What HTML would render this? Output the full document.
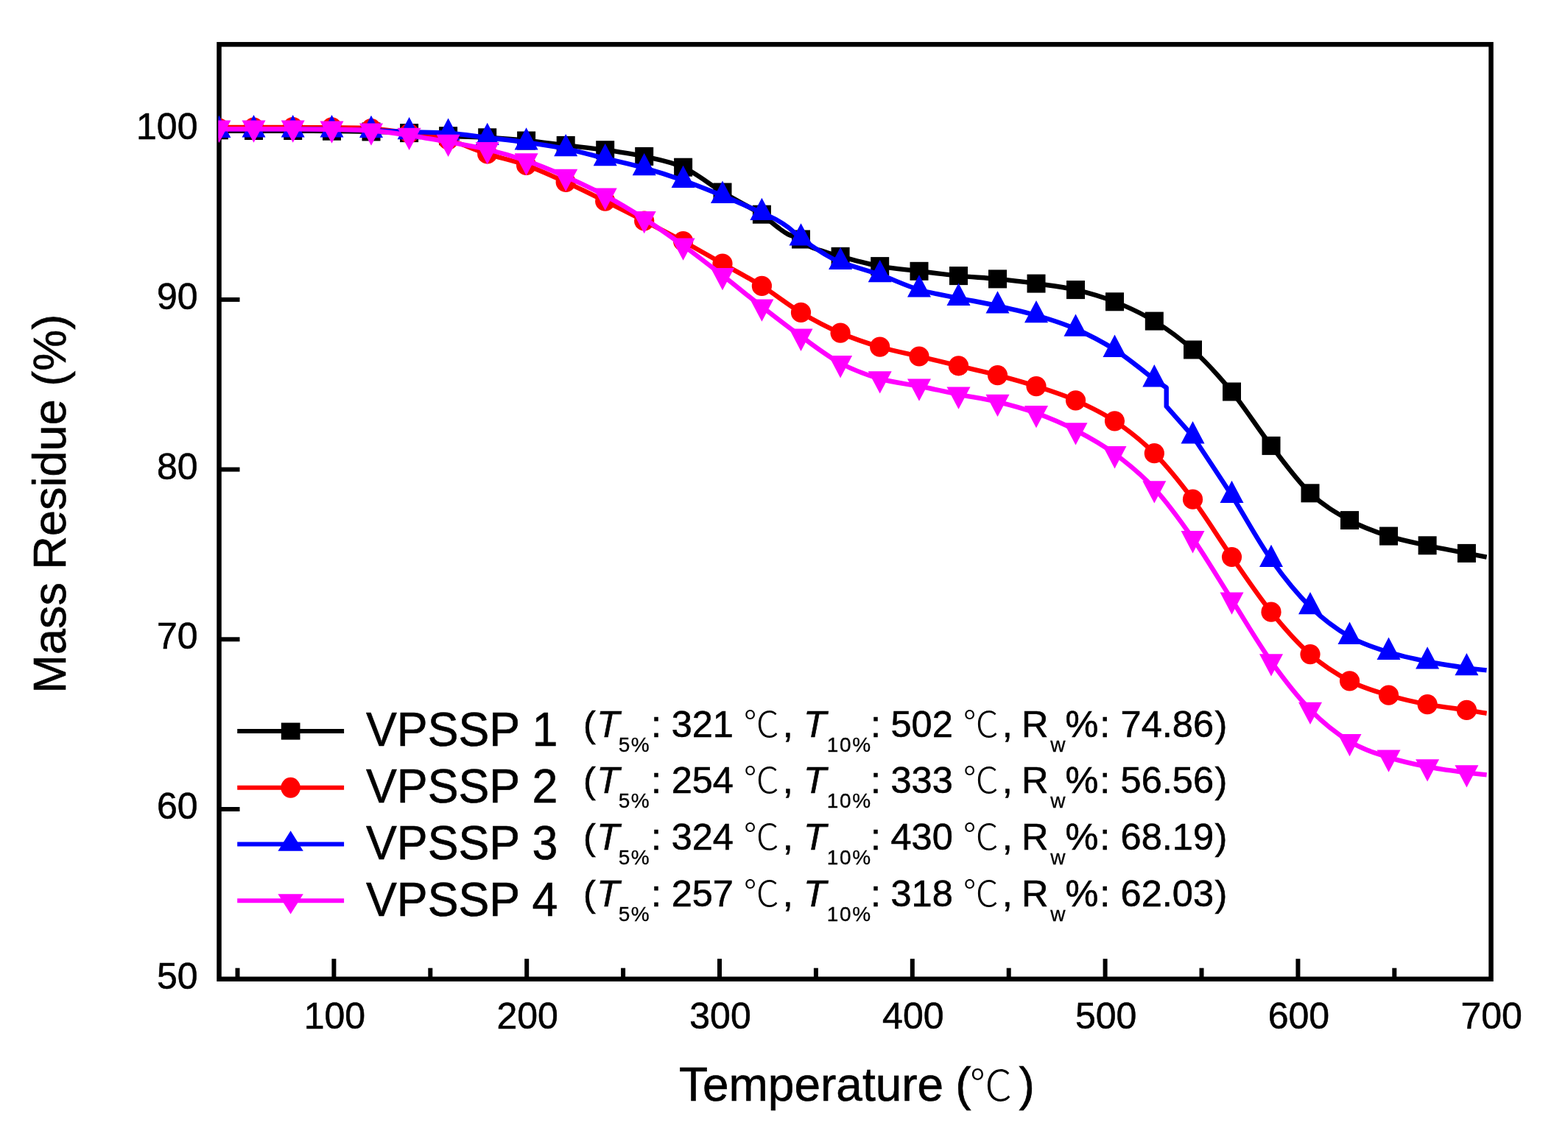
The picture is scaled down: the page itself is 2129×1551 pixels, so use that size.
<!DOCTYPE html>
<html><head><meta charset="utf-8"><title>TGA curves</title>
<style>
html,body{margin:0;padding:0;background:#fff;}
svg{display:block;}
text{font-family:"Liberation Sans",sans-serif;fill:#000;stroke:#000;stroke-width:0.6px;}
.tk{font-size:50px;}
.lg{font-size:64px;}
.ld{font-size:50.5px;}
.it{font-style:italic;}
.sub{font-size:28px;letter-spacing:1.6px;stroke-width:0.3px;}
.subw{font-size:28px;stroke-width:0.3px;}
.cj{font-family:"Liberation Sans","Noto Sans CJK SC",sans-serif;font-weight:300;font-size:48.5px;stroke-width:0;}
.cjt{font-family:"Liberation Sans","Noto Sans CJK SC",sans-serif;font-weight:300;font-size:58px;stroke-width:0;}
.ttl{font-size:64px;}
.ttly{font-size:63px;}
</style></head>
<body>
<svg width="2129" height="1551" viewBox="0 0 2129 1551">
<rect width="2129" height="1551" fill="#fff"/>
<defs><clipPath id="pc"><rect x="296.4" y="0" width="1740" height="1551"/></clipPath></defs>
<g stroke="#000" stroke-width="6">
<line x1="453.4" y1="1329.7" x2="453.4" y2="1302.2"/>
<line x1="715.2" y1="1329.7" x2="715.2" y2="1302.2"/>
<line x1="977.0" y1="1329.7" x2="977.0" y2="1302.2"/>
<line x1="1238.8" y1="1329.7" x2="1238.8" y2="1302.2"/>
<line x1="1500.6" y1="1329.7" x2="1500.6" y2="1302.2"/>
<line x1="1762.4" y1="1329.7" x2="1762.4" y2="1302.2"/>
<line x1="322.5" y1="1329.7" x2="322.5" y2="1314.7"/>
<line x1="584.3" y1="1329.7" x2="584.3" y2="1314.7"/>
<line x1="846.1" y1="1329.7" x2="846.1" y2="1314.7"/>
<line x1="1107.9" y1="1329.7" x2="1107.9" y2="1314.7"/>
<line x1="1369.7" y1="1329.7" x2="1369.7" y2="1314.7"/>
<line x1="1631.5" y1="1329.7" x2="1631.5" y2="1314.7"/>
<line x1="1893.3" y1="1329.7" x2="1893.3" y2="1314.7"/>
<line x1="297.5" y1="1099.0" x2="325.5" y2="1099.0"/>
<line x1="297.5" y1="868.3" x2="325.5" y2="868.3"/>
<line x1="297.5" y1="637.6" x2="325.5" y2="637.6"/>
<line x1="297.5" y1="406.9" x2="325.5" y2="406.9"/>
<line x1="297.5" y1="176.2" x2="325.5" y2="176.2"/>
</g>
<rect x="297.5" y="60.3" width="1727.0" height="1269.4" fill="none" stroke="#000" stroke-width="6.5"/>
<g clip-path="url(#pc)">
<path d="M297.4,177.8 C305.2,177.8 327.8,177.8 344.5,177.8 C361.2,177.8 380.0,177.8 397.7,177.8 C415.4,177.8 432.8,177.8 450.5,178.0 C468.2,178.2 486.5,178.5 504.0,178.9 C521.5,179.3 538.2,179.6 555.6,180.6 C573.0,181.6 590.9,183.7 608.6,184.7 C626.3,185.7 644.0,185.8 661.7,186.8 C679.4,187.9 696.9,189.2 714.6,191.0 C732.4,192.8 750.4,195.3 768.2,197.4 C786.1,199.5 804.0,201.2 821.7,203.7 C839.5,206.2 857.1,208.5 874.7,212.4 C892.4,216.3 909.9,219.1 927.6,227.2 C945.3,235.3 963.2,250.3 981.0,261.0 C998.8,271.7 1023.4,284.4 1034.4,291.2 C1045.4,297.9 1042.9,298.2 1047.0,301.5 C1051.1,304.8 1055.1,308.2 1059.0,311.0 C1062.9,313.8 1065.8,316.2 1070.6,318.5 C1075.3,320.8 1082.6,322.2 1087.5,325.0 C1092.4,327.8 1094.6,332.2 1100.0,335.0 C1105.4,337.8 1113.2,339.8 1120.0,342.0 C1126.8,344.2 1128.6,345.0 1141.1,348.3 C1153.5,351.6 1176.9,358.3 1194.7,361.6 C1212.5,364.9 1230.2,366.1 1248.0,368.3 C1265.8,370.5 1283.8,372.8 1301.5,374.6 C1319.2,376.4 1336.9,377.1 1354.5,378.9 C1372.1,380.6 1389.3,382.7 1407.0,385.1 C1424.7,387.6 1442.8,389.5 1460.5,393.6 C1478.2,397.7 1495.7,402.7 1513.5,409.8 C1531.3,416.9 1549.6,425.2 1567.3,436.1 C1585.0,447.0 1602.0,459.0 1619.5,475.0 C1637.0,491.0 1654.8,510.3 1672.5,532.0 C1690.2,553.7 1708.2,582.4 1726.0,605.4 C1743.8,628.4 1761.2,652.9 1779.0,669.8 C1796.8,686.7 1814.8,696.9 1832.5,706.6 C1850.2,716.3 1867.9,722.4 1885.5,728.1 C1903.1,733.8 1920.4,736.9 1938.1,740.8 C1955.8,744.7 1978.0,748.8 1991.4,751.4 C2004.8,754.0 2014.1,755.8 2018.6,756.7" fill="none" stroke="#000000" stroke-width="6.4" stroke-linejoin="round"/>
<rect x="284.9" y="164.3" width="25.0" height="25.0" fill="#000000"/>
<rect x="332.0" y="165.0" width="25.0" height="25.0" fill="#000000"/>
<rect x="385.2" y="165.0" width="25.0" height="25.0" fill="#000000"/>
<rect x="438.0" y="165.7" width="25.0" height="25.0" fill="#000000"/>
<rect x="491.5" y="166.4" width="25.0" height="25.0" fill="#000000"/>
<rect x="543.1" y="168.1" width="25.0" height="25.0" fill="#000000"/>
<rect x="596.1" y="172.2" width="25.0" height="25.0" fill="#000000"/>
<rect x="649.2" y="174.3" width="25.0" height="25.0" fill="#000000"/>
<rect x="702.1" y="178.5" width="25.0" height="25.0" fill="#000000"/>
<rect x="755.7" y="184.9" width="25.0" height="25.0" fill="#000000"/>
<rect x="809.2" y="191.2" width="25.0" height="25.0" fill="#000000"/>
<rect x="862.2" y="199.9" width="25.0" height="25.0" fill="#000000"/>
<rect x="915.1" y="214.7" width="25.0" height="25.0" fill="#000000"/>
<rect x="968.5" y="248.5" width="25.0" height="25.0" fill="#000000"/>
<rect x="1021.9" y="278.7" width="25.0" height="25.0" fill="#000000"/>
<rect x="1075.0" y="312.5" width="25.0" height="25.0" fill="#000000"/>
<rect x="1128.6" y="335.8" width="25.0" height="25.0" fill="#000000"/>
<rect x="1182.2" y="349.1" width="25.0" height="25.0" fill="#000000"/>
<rect x="1235.5" y="355.8" width="25.0" height="25.0" fill="#000000"/>
<rect x="1289.0" y="362.1" width="25.0" height="25.0" fill="#000000"/>
<rect x="1342.0" y="366.4" width="25.0" height="25.0" fill="#000000"/>
<rect x="1394.5" y="372.6" width="25.0" height="25.0" fill="#000000"/>
<rect x="1448.0" y="381.1" width="25.0" height="25.0" fill="#000000"/>
<rect x="1501.0" y="397.3" width="25.0" height="25.0" fill="#000000"/>
<rect x="1554.8" y="423.6" width="25.0" height="25.0" fill="#000000"/>
<rect x="1607.0" y="462.5" width="25.0" height="25.0" fill="#000000"/>
<rect x="1660.0" y="519.5" width="25.0" height="25.0" fill="#000000"/>
<rect x="1713.5" y="592.9" width="25.0" height="25.0" fill="#000000"/>
<rect x="1766.5" y="657.3" width="25.0" height="25.0" fill="#000000"/>
<rect x="1820.0" y="694.1" width="25.0" height="25.0" fill="#000000"/>
<rect x="1873.0" y="715.6" width="25.0" height="25.0" fill="#000000"/>
<rect x="1925.6" y="728.3" width="25.0" height="25.0" fill="#000000"/>
<rect x="1978.9" y="738.9" width="25.0" height="25.0" fill="#000000"/>
<path d="M297.4,173.0 C305.2,173.0 327.8,173.0 344.5,173.0 C361.2,173.0 380.0,172.9 397.7,173.0 C415.4,173.1 432.8,173.1 450.5,173.3 C468.2,173.6 486.5,173.2 504.0,174.5 C521.5,175.8 538.2,178.4 555.6,181.0 C573.0,183.6 590.9,185.3 608.6,190.0 C626.3,194.7 644.0,203.3 661.7,209.0 C679.4,214.7 696.9,218.0 714.6,224.4 C732.4,230.8 750.4,239.2 768.2,247.3 C786.1,255.4 804.0,264.4 821.7,273.2 C839.5,282.0 857.1,290.9 874.7,300.0 C892.4,309.1 909.9,318.0 927.6,327.7 C945.3,337.4 963.2,347.9 981.0,358.0 C998.8,368.1 1016.7,377.3 1034.4,388.4 C1052.2,399.5 1069.7,413.8 1087.5,424.4 C1105.3,435.0 1123.2,444.4 1141.1,452.2 C1159.0,460.0 1176.9,465.9 1194.7,471.2 C1212.5,476.5 1230.2,479.7 1248.0,484.0 C1265.8,488.3 1283.8,492.6 1301.5,496.9 C1319.2,501.2 1336.9,505.0 1354.5,509.6 C1372.1,514.2 1389.3,518.9 1407.0,524.6 C1424.7,530.3 1442.8,535.9 1460.5,543.8 C1478.2,551.7 1495.7,559.8 1513.5,571.8 C1531.3,583.8 1549.6,598.0 1567.3,615.7 C1585.0,633.4 1602.0,654.7 1619.5,678.2 C1637.0,701.7 1654.8,731.0 1672.5,756.5 C1690.2,782.0 1708.2,809.2 1726.0,831.2 C1743.8,853.2 1761.2,873.0 1779.0,888.6 C1796.8,904.2 1814.8,915.5 1832.5,924.8 C1850.2,934.1 1867.9,938.9 1885.5,944.2 C1903.1,949.5 1920.4,953.3 1938.1,956.7 C1955.8,960.1 1978.0,962.4 1991.4,964.4 C2004.8,966.4 2014.1,968.1 2018.6,968.8" fill="none" stroke="#ff0000" stroke-width="6.4" stroke-linejoin="round"/>
<circle cx="297.4" cy="174.0" r="13.6" fill="#ff0000"/>
<circle cx="344.5" cy="173.0" r="13.6" fill="#ff0000"/>
<circle cx="397.7" cy="172.5" r="13.6" fill="#ff0000"/>
<circle cx="450.5" cy="172.8" r="13.6" fill="#ff0000"/>
<circle cx="504.0" cy="174.5" r="13.6" fill="#ff0000"/>
<circle cx="555.6" cy="181.0" r="13.6" fill="#ff0000"/>
<circle cx="608.6" cy="190.0" r="13.6" fill="#ff0000"/>
<circle cx="661.7" cy="209.0" r="13.6" fill="#ff0000"/>
<circle cx="714.6" cy="224.4" r="13.6" fill="#ff0000"/>
<circle cx="768.2" cy="247.3" r="13.6" fill="#ff0000"/>
<circle cx="821.7" cy="273.2" r="13.6" fill="#ff0000"/>
<circle cx="874.7" cy="300.0" r="13.6" fill="#ff0000"/>
<circle cx="927.6" cy="327.7" r="13.6" fill="#ff0000"/>
<circle cx="981.0" cy="358.0" r="13.6" fill="#ff0000"/>
<circle cx="1034.4" cy="388.4" r="13.6" fill="#ff0000"/>
<circle cx="1087.5" cy="424.4" r="13.6" fill="#ff0000"/>
<circle cx="1141.1" cy="452.2" r="13.6" fill="#ff0000"/>
<circle cx="1194.7" cy="471.2" r="13.6" fill="#ff0000"/>
<circle cx="1248.0" cy="484.0" r="13.6" fill="#ff0000"/>
<circle cx="1301.5" cy="496.9" r="13.6" fill="#ff0000"/>
<circle cx="1354.5" cy="509.6" r="13.6" fill="#ff0000"/>
<circle cx="1407.0" cy="524.6" r="13.6" fill="#ff0000"/>
<circle cx="1460.5" cy="543.8" r="13.6" fill="#ff0000"/>
<circle cx="1513.5" cy="571.8" r="13.6" fill="#ff0000"/>
<circle cx="1567.3" cy="615.7" r="13.6" fill="#ff0000"/>
<circle cx="1619.5" cy="678.2" r="13.6" fill="#ff0000"/>
<circle cx="1672.5" cy="756.5" r="13.6" fill="#ff0000"/>
<circle cx="1726.0" cy="831.2" r="13.6" fill="#ff0000"/>
<circle cx="1779.0" cy="888.6" r="13.6" fill="#ff0000"/>
<circle cx="1832.5" cy="924.8" r="13.6" fill="#ff0000"/>
<circle cx="1885.5" cy="944.2" r="13.6" fill="#ff0000"/>
<circle cx="1938.1" cy="956.7" r="13.6" fill="#ff0000"/>
<circle cx="1991.4" cy="964.4" r="13.6" fill="#ff0000"/>
<path d="M297.4,175.3 C305.2,175.3 327.8,175.3 344.5,175.3 C361.2,175.3 380.0,175.2 397.7,175.3 C415.4,175.4 432.8,175.3 450.5,175.6 C468.2,175.9 486.5,176.4 504.0,177.0 C521.5,177.6 538.2,178.6 555.6,179.2 C573.0,179.8 590.9,179.4 608.6,180.7 C626.3,182.0 644.0,184.9 661.7,187.0 C679.4,189.1 696.9,190.9 714.6,193.4 C732.4,195.9 750.4,198.6 768.2,202.2 C786.1,205.8 804.0,210.9 821.7,215.2 C839.5,219.5 857.1,223.1 874.7,228.1 C892.4,233.1 909.9,238.7 927.6,245.0 C945.3,251.3 963.2,258.5 981.0,265.8 C998.8,273.1 1022.4,283.7 1034.4,289.0 C1046.4,294.3 1047.0,294.5 1053.0,297.8 C1059.0,301.1 1064.8,304.7 1070.6,309.0 C1076.3,313.3 1079.8,317.8 1087.5,323.5 C1095.2,329.2 1108.1,338.1 1117.0,343.5 C1125.9,348.9 1128.1,351.1 1141.1,356.0 C1154.0,360.9 1176.9,366.9 1194.7,373.1 C1212.5,379.4 1230.2,388.2 1248.0,393.5 C1265.8,398.8 1283.8,401.2 1301.5,404.8 C1319.2,408.4 1336.9,411.5 1354.5,415.4 C1372.1,419.3 1389.3,423.0 1407.0,428.2 C1424.7,433.4 1442.8,438.9 1460.5,446.7 C1478.2,454.5 1495.7,463.4 1513.5,474.8 C1531.3,486.2 1558.3,508.5 1567.3,515.3 L1583.7,526.5 L1583.7,551.9 L1619.5,592.3 C1628.3,605.8 1654.8,645.0 1672.5,673.0 C1690.2,701.0 1708.2,734.8 1726.0,760.0 C1743.8,785.2 1761.2,806.6 1779.0,824.1 C1796.8,841.6 1814.8,854.5 1832.5,864.8 C1850.2,875.1 1867.9,880.2 1885.5,885.8 C1903.1,891.4 1920.4,894.9 1938.1,898.5 C1955.8,902.1 1978.0,905.2 1991.4,907.2 C2004.8,909.2 2014.0,909.8 2018.5,910.3" fill="none" stroke="#0000ff" stroke-width="6.4" stroke-linejoin="round"/>
<path d="M297.4,156.7L313.4,187.0L281.4,187.0Z" fill="#0000ff"/>
<path d="M344.5,156.1L360.5,186.4L328.5,186.4Z" fill="#0000ff"/>
<path d="M397.7,156.1L413.7,186.4L381.7,186.4Z" fill="#0000ff"/>
<path d="M450.5,156.1L466.5,186.4L434.5,186.4Z" fill="#0000ff"/>
<path d="M504.0,156.8L520.0,187.1L488.0,187.1Z" fill="#0000ff"/>
<path d="M555.6,159.0L571.6,189.3L539.6,189.3Z" fill="#0000ff"/>
<path d="M608.6,160.5L624.6,190.8L592.6,190.8Z" fill="#0000ff"/>
<path d="M661.7,166.8L677.7,197.1L645.7,197.1Z" fill="#0000ff"/>
<path d="M714.6,173.2L730.6,203.5L698.6,203.5Z" fill="#0000ff"/>
<path d="M768.2,182.0L784.2,212.3L752.2,212.3Z" fill="#0000ff"/>
<path d="M821.7,195.0L837.7,225.3L805.7,225.3Z" fill="#0000ff"/>
<path d="M874.7,207.9L890.7,238.2L858.7,238.2Z" fill="#0000ff"/>
<path d="M927.6,224.8L943.6,255.1L911.6,255.1Z" fill="#0000ff"/>
<path d="M981.0,245.6L997.0,275.9L965.0,275.9Z" fill="#0000ff"/>
<path d="M1034.4,268.8L1050.4,299.1L1018.4,299.1Z" fill="#0000ff"/>
<path d="M1087.5,303.3L1103.5,333.6L1071.5,333.6Z" fill="#0000ff"/>
<path d="M1141.1,335.8L1157.1,366.1L1125.1,366.1Z" fill="#0000ff"/>
<path d="M1194.7,352.9L1210.7,383.2L1178.7,383.2Z" fill="#0000ff"/>
<path d="M1248.0,373.3L1264.0,403.6L1232.0,403.6Z" fill="#0000ff"/>
<path d="M1301.5,384.6L1317.5,414.9L1285.5,414.9Z" fill="#0000ff"/>
<path d="M1354.5,395.2L1370.5,425.5L1338.5,425.5Z" fill="#0000ff"/>
<path d="M1407.0,408.0L1423.0,438.3L1391.0,438.3Z" fill="#0000ff"/>
<path d="M1460.5,426.5L1476.5,456.8L1444.5,456.8Z" fill="#0000ff"/>
<path d="M1513.5,454.6L1529.5,484.9L1497.5,484.9Z" fill="#0000ff"/>
<path d="M1567.3,495.1L1583.3,525.4L1551.3,525.4Z" fill="#0000ff"/>
<path d="M1619.5,572.1L1635.5,602.4L1603.5,602.4Z" fill="#0000ff"/>
<path d="M1672.5,652.8L1688.5,683.1L1656.5,683.1Z" fill="#0000ff"/>
<path d="M1726.0,739.8L1742.0,770.1L1710.0,770.1Z" fill="#0000ff"/>
<path d="M1779.0,803.9L1795.0,834.2L1763.0,834.2Z" fill="#0000ff"/>
<path d="M1832.5,844.6L1848.5,874.9L1816.5,874.9Z" fill="#0000ff"/>
<path d="M1885.5,865.6L1901.5,895.9L1869.5,895.9Z" fill="#0000ff"/>
<path d="M1938.1,878.3L1954.1,908.6L1922.1,908.6Z" fill="#0000ff"/>
<path d="M1991.4,887.0L2007.4,917.3L1975.4,917.3Z" fill="#0000ff"/>
<path d="M297.4,175.3 C305.2,175.3 327.8,175.3 344.5,175.3 C361.2,175.3 380.0,175.2 397.7,175.3 C415.4,175.4 432.8,175.4 450.5,175.8 C468.2,176.2 486.5,176.2 504.0,177.5 C521.5,178.8 538.2,181.2 555.6,183.8 C573.0,186.4 590.9,189.6 608.6,192.8 C626.3,196.0 644.0,198.8 661.7,203.0 C679.4,207.2 696.9,212.2 714.6,218.3 C732.4,224.4 750.4,231.9 768.2,239.8 C786.1,247.7 804.0,256.1 821.7,265.6 C839.5,275.1 857.1,285.7 874.7,297.0 C892.4,308.3 909.9,320.7 927.6,333.5 C945.3,346.3 963.2,360.2 981.0,374.0 C998.8,387.8 1016.7,402.7 1034.4,416.5 C1052.2,430.3 1069.7,443.9 1087.5,456.7 C1105.3,469.5 1123.2,483.6 1141.1,493.2 C1159.0,502.8 1176.9,509.2 1194.7,514.4 C1212.5,519.6 1230.2,521.0 1248.0,524.5 C1265.8,528.0 1283.8,532.0 1301.5,535.6 C1319.2,539.2 1336.9,541.6 1354.5,545.9 C1372.1,550.1 1389.3,554.7 1407.0,561.1 C1424.7,567.5 1442.8,575.1 1460.5,584.3 C1478.2,593.5 1495.7,603.0 1513.5,616.2 C1531.3,629.4 1549.6,644.1 1567.3,663.3 C1585.0,682.5 1602.0,706.0 1619.5,731.2 C1637.0,756.4 1654.8,786.6 1672.5,814.5 C1690.2,842.4 1708.2,873.5 1726.0,898.4 C1743.8,923.3 1761.2,945.8 1779.0,963.9 C1796.8,982.0 1814.8,996.2 1832.5,1007.0 C1850.2,1017.8 1867.9,1022.9 1885.5,1028.6 C1903.1,1034.3 1920.4,1037.9 1938.1,1041.4 C1955.8,1044.9 1978.0,1047.6 1991.4,1049.4 C2004.8,1051.2 2014.1,1051.9 2018.6,1052.4" fill="none" stroke="#ff00ff" stroke-width="6.4" stroke-linejoin="round"/>
<path d="M297.4,193.9L313.4,163.6L281.4,163.6Z" fill="#ff00ff"/>
<path d="M344.5,193.7L360.5,163.4L328.5,163.4Z" fill="#ff00ff"/>
<path d="M397.7,193.7L413.7,163.4L381.7,163.4Z" fill="#ff00ff"/>
<path d="M450.5,194.7L466.5,164.4L434.5,164.4Z" fill="#ff00ff"/>
<path d="M504.0,197.7L520.0,167.4L488.0,167.4Z" fill="#ff00ff"/>
<path d="M555.6,204.0L571.6,173.7L539.6,173.7Z" fill="#ff00ff"/>
<path d="M608.6,213.0L624.6,182.7L592.6,182.7Z" fill="#ff00ff"/>
<path d="M661.7,223.2L677.7,192.9L645.7,192.9Z" fill="#ff00ff"/>
<path d="M714.6,238.5L730.6,208.2L698.6,208.2Z" fill="#ff00ff"/>
<path d="M768.2,260.0L784.2,229.7L752.2,229.7Z" fill="#ff00ff"/>
<path d="M821.7,285.8L837.7,255.5L805.7,255.5Z" fill="#ff00ff"/>
<path d="M874.7,317.2L890.7,286.9L858.7,286.9Z" fill="#ff00ff"/>
<path d="M927.6,353.7L943.6,323.4L911.6,323.4Z" fill="#ff00ff"/>
<path d="M981.0,394.2L997.0,363.9L965.0,363.9Z" fill="#ff00ff"/>
<path d="M1034.4,436.7L1050.4,406.4L1018.4,406.4Z" fill="#ff00ff"/>
<path d="M1087.5,476.9L1103.5,446.6L1071.5,446.6Z" fill="#ff00ff"/>
<path d="M1141.1,513.4L1157.1,483.1L1125.1,483.1Z" fill="#ff00ff"/>
<path d="M1194.7,534.6L1210.7,504.3L1178.7,504.3Z" fill="#ff00ff"/>
<path d="M1248.0,544.7L1264.0,514.4L1232.0,514.4Z" fill="#ff00ff"/>
<path d="M1301.5,555.8L1317.5,525.5L1285.5,525.5Z" fill="#ff00ff"/>
<path d="M1354.5,566.1L1370.5,535.8L1338.5,535.8Z" fill="#ff00ff"/>
<path d="M1407.0,581.3L1423.0,551.0L1391.0,551.0Z" fill="#ff00ff"/>
<path d="M1460.5,604.5L1476.5,574.2L1444.5,574.2Z" fill="#ff00ff"/>
<path d="M1513.5,636.4L1529.5,606.1L1497.5,606.1Z" fill="#ff00ff"/>
<path d="M1567.3,683.5L1583.3,653.2L1551.3,653.2Z" fill="#ff00ff"/>
<path d="M1619.5,751.4L1635.5,721.1L1603.5,721.1Z" fill="#ff00ff"/>
<path d="M1672.5,834.7L1688.5,804.4L1656.5,804.4Z" fill="#ff00ff"/>
<path d="M1726.0,918.6L1742.0,888.3L1710.0,888.3Z" fill="#ff00ff"/>
<path d="M1779.0,984.1L1795.0,953.8L1763.0,953.8Z" fill="#ff00ff"/>
<path d="M1832.5,1027.2L1848.5,996.9L1816.5,996.9Z" fill="#ff00ff"/>
<path d="M1885.5,1048.8L1901.5,1018.5L1869.5,1018.5Z" fill="#ff00ff"/>
<path d="M1938.1,1061.6L1954.1,1031.3L1922.1,1031.3Z" fill="#ff00ff"/>
<path d="M1991.4,1069.6L2007.4,1039.3L1975.4,1039.3Z" fill="#ff00ff"/>
</g>
<g class="tk">
<text x="454.4" y="1396.5" text-anchor="middle">100</text>
<text x="716.2" y="1396.5" text-anchor="middle">200</text>
<text x="978.0" y="1396.5" text-anchor="middle">300</text>
<text x="1239.8" y="1396.5" text-anchor="middle">400</text>
<text x="1501.6" y="1396.5" text-anchor="middle">500</text>
<text x="1763.4" y="1396.5" text-anchor="middle">600</text>
<text x="2025.2" y="1396.5" text-anchor="middle">700</text>
<text x="268.5" y="1342.7" text-anchor="end">50</text>
<text x="268.5" y="1112.0" text-anchor="end">60</text>
<text x="268.5" y="881.3" text-anchor="end">70</text>
<text x="268.5" y="650.6" text-anchor="end">80</text>
<text x="268.5" y="419.9" text-anchor="end">90</text>
<text x="268.5" y="189.2" text-anchor="end">100</text>
</g>
<text class="ttl" y="1494.7"><tspan x="921.9">Temperature</tspan><tspan x="1297.2">(</tspan><tspan x="1316.6" class="cjt">℃</tspan><tspan x="1383.6">)</tspan></text>
<text class="ttly" transform="translate(88.5,941.5) rotate(-90)" x="0" y="0">Mass Residue (%)</text>
<line x1="322.2" y1="993.1" x2="467.1" y2="993.1" stroke="#000000" stroke-width="6"/>
<rect x="381.8" y="981.6" width="25.7" height="23.0" fill="#000000"/>
<text x="497" y="1013.2" class="lg" textLength="260.3" lengthAdjust="spacingAndGlyphs">VPSSP 1</text>
<text class="ld"><tspan x="791.9" y="1000.6" class="ld">(</tspan><tspan x="810.3" y="1000.6" class="ld it">T</tspan><tspan x="839.7" y="1020.6" class="sub">5%</tspan><tspan x="883.9" y="1000.6" class="ld">:</tspan><tspan x="911.7" y="1000.6" class="ld">321</tspan><tspan x="1009.4" y="1000.6" class="cj">℃</tspan><tspan x="1062.8" y="1000.6" class="ld">,</tspan><tspan x="1090.9" y="1000.6" class="ld it">T</tspan><tspan x="1122.8" y="1020.6" class="sub">10%</tspan><tspan x="1182.1" y="1000.6" class="ld">:</tspan><tspan x="1209.5" y="1000.6" class="ld">502</tspan><tspan x="1307.6" y="1000.6" class="cj">℃</tspan><tspan x="1360.8" y="1000.6" class="ld">,</tspan><tspan x="1387.1" y="1000.6" class="ld">R</tspan><tspan x="1426.2" y="1020.6" class="subw">w</tspan><tspan x="1446.6" y="1000.6" class="ld">%</tspan><tspan x="1493.3" y="1000.6" class="ld">:</tspan><tspan x="1521.6" y="1000.6" class="ld">74.86</tspan><tspan x="1649.6" y="1000.6" class="ld">)</tspan></text>
<line x1="322.2" y1="1069.8" x2="467.1" y2="1069.8" stroke="#ff0000" stroke-width="6"/>
<ellipse cx="394.6" cy="1069.8" rx="13.2" ry="14.0" fill="#ff0000"/>
<text x="497" y="1090.0" class="lg" textLength="260.3" lengthAdjust="spacingAndGlyphs">VPSSP 2</text>
<text class="ld"><tspan x="791.9" y="1077.3" class="ld">(</tspan><tspan x="810.3" y="1077.3" class="ld it">T</tspan><tspan x="839.7" y="1097.3" class="sub">5%</tspan><tspan x="883.9" y="1077.3" class="ld">:</tspan><tspan x="911.7" y="1077.3" class="ld">254</tspan><tspan x="1009.4" y="1077.3" class="cj">℃</tspan><tspan x="1062.8" y="1077.3" class="ld">,</tspan><tspan x="1090.9" y="1077.3" class="ld it">T</tspan><tspan x="1122.8" y="1097.3" class="sub">10%</tspan><tspan x="1182.1" y="1077.3" class="ld">:</tspan><tspan x="1209.5" y="1077.3" class="ld">333</tspan><tspan x="1307.6" y="1077.3" class="cj">℃</tspan><tspan x="1360.8" y="1077.3" class="ld">,</tspan><tspan x="1387.1" y="1077.3" class="ld">R</tspan><tspan x="1426.2" y="1097.3" class="subw">w</tspan><tspan x="1446.6" y="1077.3" class="ld">%</tspan><tspan x="1493.3" y="1077.3" class="ld">:</tspan><tspan x="1521.6" y="1077.3" class="ld">56.56</tspan><tspan x="1649.6" y="1077.3" class="ld">)</tspan></text>
<line x1="322.2" y1="1146.6" x2="467.1" y2="1146.6" stroke="#0000ff" stroke-width="6"/>
<path d="M394.6,1128.2L411.8,1155.8L377.4,1155.8Z" fill="#0000ff"/>
<text x="497" y="1166.7" class="lg" textLength="260.3" lengthAdjust="spacingAndGlyphs">VPSSP 3</text>
<text class="ld"><tspan x="791.9" y="1154.1" class="ld">(</tspan><tspan x="810.3" y="1154.1" class="ld it">T</tspan><tspan x="839.7" y="1174.1" class="sub">5%</tspan><tspan x="883.9" y="1154.1" class="ld">:</tspan><tspan x="911.7" y="1154.1" class="ld">324</tspan><tspan x="1009.4" y="1154.1" class="cj">℃</tspan><tspan x="1062.8" y="1154.1" class="ld">,</tspan><tspan x="1090.9" y="1154.1" class="ld it">T</tspan><tspan x="1122.8" y="1174.1" class="sub">10%</tspan><tspan x="1182.1" y="1154.1" class="ld">:</tspan><tspan x="1209.5" y="1154.1" class="ld">430</tspan><tspan x="1307.6" y="1154.1" class="cj">℃</tspan><tspan x="1360.8" y="1154.1" class="ld">,</tspan><tspan x="1387.1" y="1154.1" class="ld">R</tspan><tspan x="1426.2" y="1174.1" class="subw">w</tspan><tspan x="1446.6" y="1154.1" class="ld">%</tspan><tspan x="1493.3" y="1154.1" class="ld">:</tspan><tspan x="1521.6" y="1154.1" class="ld">68.19</tspan><tspan x="1649.6" y="1154.1" class="ld">)</tspan></text>
<line x1="322.2" y1="1223.3" x2="467.1" y2="1223.3" stroke="#ff00ff" stroke-width="6"/>
<path d="M394.6,1241.6L411.8,1214.2L377.4,1214.2Z" fill="#ff00ff"/>
<text x="497" y="1243.5" class="lg" textLength="260.3" lengthAdjust="spacingAndGlyphs">VPSSP 4</text>
<text class="ld"><tspan x="791.9" y="1230.8" class="ld">(</tspan><tspan x="810.3" y="1230.8" class="ld it">T</tspan><tspan x="839.7" y="1250.8" class="sub">5%</tspan><tspan x="883.9" y="1230.8" class="ld">:</tspan><tspan x="911.7" y="1230.8" class="ld">257</tspan><tspan x="1009.4" y="1230.8" class="cj">℃</tspan><tspan x="1062.8" y="1230.8" class="ld">,</tspan><tspan x="1090.9" y="1230.8" class="ld it">T</tspan><tspan x="1122.8" y="1250.8" class="sub">10%</tspan><tspan x="1182.1" y="1230.8" class="ld">:</tspan><tspan x="1209.5" y="1230.8" class="ld">318</tspan><tspan x="1307.6" y="1230.8" class="cj">℃</tspan><tspan x="1360.8" y="1230.8" class="ld">,</tspan><tspan x="1387.1" y="1230.8" class="ld">R</tspan><tspan x="1426.2" y="1250.8" class="subw">w</tspan><tspan x="1446.6" y="1230.8" class="ld">%</tspan><tspan x="1493.3" y="1230.8" class="ld">:</tspan><tspan x="1521.6" y="1230.8" class="ld">62.03</tspan><tspan x="1649.6" y="1230.8" class="ld">)</tspan></text>
</svg>
</body></html>
